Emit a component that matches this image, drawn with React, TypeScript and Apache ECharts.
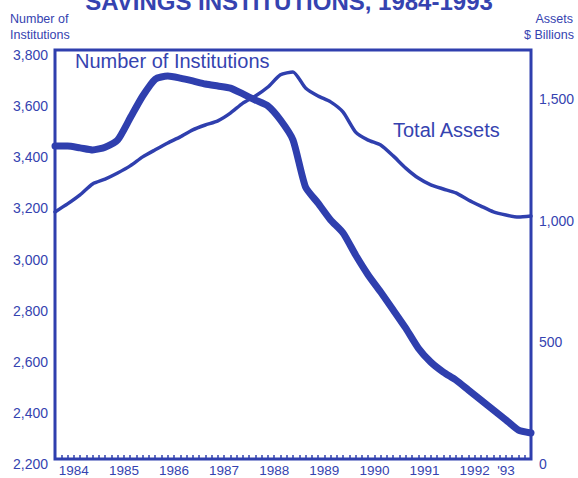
import React, { useEffect, useRef } from "react";
import * as echarts from "echarts";

const quarters: number[] = [
  1984.0, 1984.25, 1984.5, 1984.75, 1985.0, 1985.25, 1985.5, 1985.75,
  1986.0, 1986.25, 1986.5, 1986.75, 1987.0, 1987.25, 1987.5, 1987.75,
  1988.0, 1988.25, 1988.5, 1988.75, 1989.0, 1989.25, 1989.5, 1989.75,
  1990.0, 1990.25, 1990.5, 1990.75, 1991.0, 1991.25, 1991.5, 1991.75,
  1992.0, 1992.25, 1992.5, 1992.75, 1993.0, 1993.25, 1993.5,
];

const institutions: number[] = [
  3424, 3424, 3417, 3409, 3420, 3448, 3534, 3620,
  3686, 3698, 3690, 3679, 3667, 3659, 3651, 3628,
  3604, 3581, 3526, 3448, 3264, 3201, 3135, 3084,
  2998, 2920, 2853, 2783, 2712, 2634, 2579, 2540,
  2509, 2470, 2431, 2392, 2353, 2313, 2302,
];

const totalAssets: number[] = [
  1015, 1048, 1085, 1130, 1150, 1175, 1204, 1241,
  1270, 1298, 1323, 1352, 1372, 1389, 1421, 1462,
  1491, 1528, 1578, 1590, 1524, 1491, 1467, 1425,
  1343, 1310, 1290, 1245, 1195, 1154, 1126, 1109,
  1093, 1064, 1039, 1015, 1002, 994, 998,
];

const yearLabels: string[] = ["1984", "1985", "1986", "1987", "1988", "1989", "1990", "1991", "1992"];
const lastYearLabel = "'93";

const BLUE = "#2f3fae";
const TEXT = "#3543b0";
const FONT = "'Liberation Sans', Arial, Helvetica, sans-serif";

export default function App() {
  const ref = useRef<HTMLDivElement>(null);
  useEffect(() => {
    if (!ref.current) return;
    const chart = echarts.init(ref.current, null, { renderer: "svg" });
    const fmtComma = (v: number) => v.toLocaleString("en-US");
    chart.setOption({
      animation: false,
      backgroundColor: "#ffffff",
      textStyle: { fontFamily: FONT },
      grid: {
        left: 55,
        right: 47,
        top: 50,
        bottom: 19,
        show: true,
        borderColor: BLUE,
        borderWidth: 3,
        backgroundColor: "transparent",
      },
      xAxis: {
        type: "value",
        min: 1984,
        max: 1993.5,
        interval: 0.125,
        splitLine: { show: false },
        axisLine: { show: false },
        axisTick: { show: true, inside: true, length: 4, lineStyle: { color: BLUE, width: 1.5 } },
        axisLabel: {
          color: TEXT,
          fontSize: 13.5,
          fontFamily: FONT,
          margin: 4,
          showMinLabel: true,
          showMaxLabel: true,
          formatter: (v: number) => {
            const yr = Math.floor(v + 1e-6);
            const frac = v - yr;
            if (Math.abs(frac - 0.375) < 1e-6) {
              const idx = yr - 1984;
              if (idx >= 0 && idx < yearLabels.length) return yearLabels[idx];
            }
            if (Math.abs(v - 1993) < 1e-6) return lastYearLabel;
            return "";
          },
        },
      },
      yAxis: [
        {
          type: "value",
          min: 2200,
          max: 3800,
          interval: 200,
          position: "left",
          splitLine: { show: false },
          axisLine: { show: false },
          axisTick: { show: false },
          axisLabel: {
            color: TEXT,
            fontSize: 14,
            fontFamily: FONT,
            margin: 7,
            verticalAlign: "top",
            lineHeight: 10,
            formatter: (v: number) => fmtComma(v),
          },
        },
        {
          type: "value",
          min: 0,
          max: 1680,
          interval: 500,
          position: "right",
          splitLine: { show: false },
          axisLine: { show: false },
          axisTick: { show: false },
          axisLabel: {
            color: TEXT,
            fontSize: 14,
            fontFamily: FONT,
            margin: 8,
            verticalAlign: "top",
            lineHeight: 10,
            formatter: (v: number) => (v % 500 === 0 && v <= 1500 ? fmtComma(v) : ""),
          },
        },
      ],
      series: [
        {
          name: "Number of Institutions",
          type: "line",
          yAxisIndex: 0,
          data: quarters.map((q, i) => [q, institutions[i]]),
          showSymbol: false,
          smooth: 0.2,
          lineStyle: { color: BLUE, width: 7, cap: "round", join: "round" },
        },
        {
          name: "Total Assets",
          type: "line",
          yAxisIndex: 1,
          data: quarters.map((q, i) => [q, totalAssets[i]]),
          showSymbol: false,
          smooth: 0.2,
          lineStyle: { color: BLUE, width: 3.5, cap: "round", join: "round" },
        },
      ],
      graphic: [
        {
          type: "text",
          left: "center",
          top: -11,
          style: { text: "SAVINGS INSTITUTIONS, 1984-1993", fill: TEXT, font: `bold 24px ${FONT}` },
        },
        { type: "text", left: 10, top: 12, style: { text: "Number of", fill: TEXT, font: `12.5px ${FONT}` } },
        { type: "text", left: 10, top: 28, style: { text: "Institutions", fill: TEXT, font: `12.5px ${FONT}` } },
        { type: "text", right: 5, top: 12, style: { text: "Assets", fill: TEXT, font: `12.5px ${FONT}`, align: "right" } },
        { type: "text", right: 4, top: 28, style: { text: "$ Billions", fill: TEXT, font: `12.5px ${FONT}`, align: "right" } },
        { type: "text", left: 75, top: 51, style: { text: "Number of Institutions", fill: TEXT, font: `20px ${FONT}` } },
        { type: "text", left: 393, top: 120, style: { text: "Total Assets", fill: TEXT, font: `20px ${FONT}` } },
      ],
    });
    return () => chart.dispose();
  }, []);
  return (
    <div
      ref={ref}
      style={{ position: "fixed", left: 0, top: 0, width: 578, height: 478, background: "#fff" }}
    />
  );
}
